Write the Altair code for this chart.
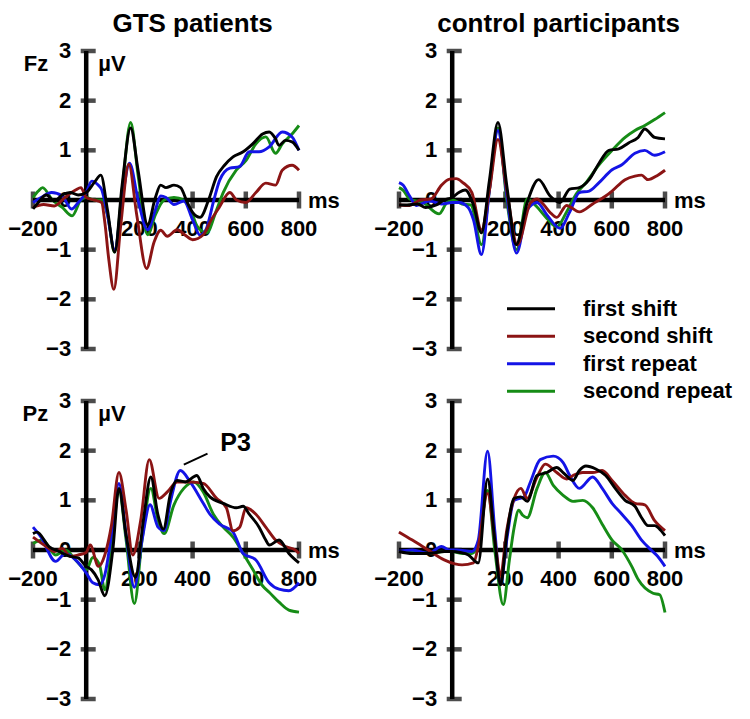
import altair as alt
import pandas as pd

conditions = ["first shift", "second shift", "first repeat", "second repeat"]
colors = ["#000000", "#8b1414", "#1414e6", "#168c16"]

x_tick_values = [-200, 200, 400, 600, 800]
x_tick_labels = ["−200", "200", "400", "600", "800"]
y_tick_values = [3, 2, 1, 0, -1, -2, -3]
y_tick_labels = ["3", "2", "1", "0", "−1", "−2", "−3"]

# ---- GTS patients, Fz ----
gts_fz_first_shift = [(-200,-0.18),(-180,-0.05),(-150,0.1),(-120,-0.02),(-90,0.1),(-60,0.15),(-30,0.1),(0,0.15),(30,0.35),(55,0.5),(80,-0.2),(107,-1.05),(135,0.3),(167,1.45),(195,0.6),(231,-0.5),(260,0.05),(280,0.3),(300,0.25),(330,0.3),(355,0.25),(380,-0.05),(400,-0.25),(428,-0.35),(460,0.0),(490,0.47),(520,0.7),(552,0.87),(590,0.97),(626,1.13),(663,1.33),(688,1.37),(710,1.25),(725,1.1),(749,1.2),(774,1.17),(800,1.0)]
gts_fz_second_shift = [(-200,-0.15),(-160,-0.09),(-120,-0.12),(-80,0.05),(-40,0.2),(-20,0.25),(0,0.05),(30,0.0),(58,-0.05),(70,-0.45),(85,-1.2),(104,-1.8),(130,-0.5),(160,0.72),(190,-0.3),(227,-1.38),(255,-0.85),(280,-0.61),(305,-0.73),(342,-0.6),(370,-0.7),(400,-0.8),(440,-0.7),(470,-0.4),(500,-0.15),(540,0.15),(565,0.0),(600,-0.05),(638,0.15),(675,0.34),(712,0.3),(737,0.6),(774,0.7),(800,0.6)]
gts_fz_first_repeat = [(-200,-0.05),(-170,0.05),(-130,0.15),(-90,0.08),(-55,-0.18),(-30,-0.05),(0,0.15),(21,0.38),(45,0.3),(58,0.21),(80,-0.3),(107,-1.0),(135,0.0),(163,0.74),(195,0.0),(231,-0.6),(260,-0.2),(280,0.08),(300,0.05),(330,-0.09),(367,-0.02),(400,-0.4),(428,-0.71),(450,-0.6),(480,0.0),(502,0.4),(540,0.64),(576,0.67),(613,0.97),(650,0.97),(688,1.07),(737,1.37),(774,1.27),(800,1.0)]
gts_fz_second_repeat = [(-200,0.05),(-180,0.18),(-164,0.25),(-127,0.0),(-90,-0.15),(-53,-0.32),(-20,0.0),(0,0.05),(30,0.0),(60,0.0),(80,-0.3),(107,-1.05),(135,0.2),(167,1.56),(195,0.5),(231,-0.7),(260,-0.3),(293,0.0),(330,0.05),(367,0.0),(400,-0.3),(416,-0.52),(453,-0.66),(490,-0.2),(515,0.15),(564,0.6),(601,0.8),(638,1.13),(675,1.27),(712,0.94),(737,1.13),(774,1.33),(800,1.5)]

# ---- control participants, Fz ----
ctl_fz_first_shift = [(-200,-0.1),(-170,-0.1),(-130,-0.08),(-100,-0.15),(-60,-0.1),(-30,0.0),(0,0.05),(25,0.15),(49,0.2),(80,-0.1),(110,-0.66),(140,0.4),(172,1.56),(205,0.3),(240,-0.9),(282,-0.05),(325,0.41),(368,0.08),(405,-0.05),(442,0.22),(478,0.25),(515,0.41),(552,0.74),(589,1.0),(626,1.03),(663,1.15),(699,1.26),(724,1.43),(761,1.26),(800,1.23)]
ctl_fz_second_shift = [(-200,-0.1),(-160,-0.11),(-120,0.0),(-80,0.02),(-40,0.3),(-10,0.42),(15,0.43),(40,0.35),(74,0.15),(110,-0.6),(140,0.2),(172,1.22),(205,0.2),(245,-0.9),(295,-0.05),(319,0.02),(345,-0.1),(368,-0.25),(393,-0.35),(430,-0.11),(478,-0.24),(528,-0.08),(577,0.08),(601,0.18),(650,0.41),(687,0.48),(712,0.5),(736,0.41),(773,0.5),(800,0.6)]
ctl_fz_first_repeat = [(-200,0.35),(-185,0.3),(-160,0.08),(-135,-0.11),(-86,-0.02),(-40,-0.08),(0,-0.05),(25,-0.05),(60,-0.15),(80,-0.4),(110,-1.1),(140,0.2),(172,1.4),(205,0.1),(242,-1.07),(282,-0.2),(319,-0.05),(356,-0.3),(405,-0.57),(442,-0.24),(478,0.15),(515,0.18),(552,0.35),(601,0.61),(638,0.71),(687,0.94),(724,1.0),(761,0.9),(800,0.97)]
ctl_fz_second_repeat = [(-200,0.25),(-185,0.2),(-160,0.02),(-110,-0.05),(-49,-0.28),(-20,-0.05),(0,0.0),(37,-0.08),(70,-0.1),(110,-0.9),(140,0.2),(172,1.45),(205,0.0),(242,-1.0),(282,0.02),(319,-0.14),(356,-0.37),(393,-0.54),(430,-0.24),(466,0.12),(503,0.35),(552,0.71),(601,1.0),(650,1.26),(687,1.4),(724,1.5),(761,1.62),(800,1.76)]

# ---- GTS patients, Pz ----
gts_pz_first_shift = [(-200,0.33),(-185,0.36),(-140,0.07),(-102,-0.03),(-60,-0.13),(-30,-0.16),(0,-0.33),(20,-0.4),(45,-0.6),(70,-0.92),(100,0.0),(123,1.24),(150,0.3),(185,-0.55),(215,0.6),(243,1.47),(270,0.7),(290,0.42),(317,1.14),(342,1.4),(373,1.37),(416,1.5),(440,1.24),(465,1.07),(515,0.94),(564,0.85),(590,0.88),(613,0.72),(650,0.46),(675,0.2),(688,0.1),(725,0.2),(762,-0.07),(800,-0.26)]
gts_pz_second_shift = [(-200,0.26),(-150,0.07),(-120,-0.03),(-90,0.03),(-60,-0.13),(-30,-0.1),(0,-0.05),(15,0.1),(46,-0.33),(70,-0.1),(95,0.5),(123,1.56),(150,0.8),(175,-0.1),(205,0.6),(237,1.82),(274,1.04),(305,1.17),(342,1.37),(391,1.37),(440,1.34),(490,1.04),(527,0.85),(552,0.39),(577,0.46),(601,0.85),(638,0.72),(675,0.46),(712,0.2),(749,0.07),(786,0.0),(800,-0.07)]
gts_pz_first_repeat = [(-200,0.46),(-170,0.26),(-115,-0.23),(-78,-0.07),(-40,-0.2),(0,-0.46),(25,-0.66),(50,-0.7),(70,-0.5),(95,0.3),(123,1.34),(150,0.3),(181,-0.75),(210,0.2),(240,0.91),(270,0.46),(293,0.39),(317,0.98),(354,1.6),(391,1.37),(440,0.94),(465,0.72),(502,0.52),(552,0.36),(590,-0.07),(638,-0.2),(688,-0.66),(725,-0.79),(762,-0.82),(800,-0.66)]
gts_pz_second_repeat = [(-200,0.13),(-164,0.2),(-115,-0.1),(-78,0.0),(-40,-0.2),(0,-0.4),(25,-0.15),(50,-0.3),(70,-0.8),(95,0.0),(123,1.2),(150,0.2),(181,-1.08),(210,0.2),(243,1.24),(270,0.6),(293,0.33),(330,0.91),(367,1.24),(404,1.37),(440,1.17),(478,0.72),(515,0.46),(552,0.26),(590,-0.07),(626,-0.39),(663,-0.72),(688,-0.85),(725,-1.05),(762,-1.21),(800,-1.25)]

# ---- control participants, Pz ----
ctl_pz_first_shift = [(-200,-0.03),(-150,-0.07),(-90,-0.07),(-30,-0.03),(0,-0.03),(30,-0.05),(61,-0.1),(98,-0.26),(133,1.43),(160,0.2),(182,-0.7),(205,0.3),(233,1.04),(258,1.07),(282,0.98),(319,1.5),(356,1.56),(393,1.66),(417,1.56),(454,1.4),(478,1.6),(503,1.69),(540,1.63),(577,1.5),(613,1.24),(650,1.0),(687,0.88),(712,0.65),(736,0.49),(761,0.49),(785,0.39),(800,0.29)]
ctl_pz_second_shift = [(-200,0.36),(-150,0.2),(-90,0.0),(-30,-0.2),(10,-0.28),(37,-0.3),(80,-0.26),(98,0.07),(133,1.14),(160,0.2),(182,-0.5),(205,0.4),(233,1.04),(258,1.24),(282,1.04),(319,1.47),(350,1.73),(393,1.56),(430,1.43),(454,1.5),(491,1.56),(528,1.56),(564,1.6),(601,1.4),(650,1.1),(687,0.94),(724,0.91),(761,0.59),(800,0.39)]
ctl_pz_first_repeat = [(-200,-0.03),(-150,0.0),(-90,-0.07),(-40,0.07),(-10,0.0),(20,0.0),(74,-0.03),(98,0.2),(133,1.99),(160,0.4),(182,-0.7),(205,0.2),(233,1.0),(270,1.07),(294,1.37),(331,1.82),(380,1.89),(417,1.76),(442,1.5),(478,1.24),(528,1.47),(564,1.24),(601,0.94),(638,0.72),(675,0.49),(712,0.2),(748,0.0),(773,-0.13),(800,-0.33)]
ctl_pz_second_repeat = [(-200,-0.03),(-150,-0.03),(-90,-0.07),(-30,-0.03),(0,-0.03),(40,-0.07),(74,-0.07),(98,0.13),(133,1.2),(160,0.0),(192,-1.1),(215,-0.2),(233,0.46),(250,0.8),(265,0.7),(282,0.65),(319,1.24),(350,1.56),(380,1.3),(417,1.1),(454,0.98),(491,1.0),(528,0.85),(564,0.52),(601,0.2),(638,0.0),(675,-0.33),(700,-0.6),(755,-0.87),(780,-0.9),(800,-1.26)]

# ---------------- layout / style ----------------
W, H = 266, 298
FONT = "Liberation Sans"
AX_W = 4.5
xscale = alt.Scale(domain=[-200, 800], nice=False, zero=False)
yscale = alt.Scale(domain=[-3, 3], nice=False, zero=False)
X = alt.X("t:Q", scale=xscale, axis=None)
Y = alt.Y("v:Q", scale=yscale, axis=None)


def lines(series):
    layers = []
    # draw order: green, blue, red, black (black on top)
    for data, color in reversed(list(zip(series, colors))):
        df = pd.DataFrame(data, columns=["t", "v"])
        layers.append(alt.Chart(df).mark_line(color=color, strokeWidth=2.9,
                                              interpolate="monotone").encode(x=X, y=Y))
    return layers


def axes():
    ax_y = alt.Chart(pd.DataFrame({"t": [0], "v": [-3], "v2": [3]})).mark_rule(
        color="black", strokeWidth=AX_W).encode(x=X, y=Y, y2="v2:Q")
    ax_x = alt.Chart(pd.DataFrame({"t": [-200], "t2": [800], "v": [0]})).mark_rule(
        color="black", strokeWidth=AX_W).encode(x=X, x2="t2:Q", y=Y)
    yt = alt.Chart(pd.DataFrame({"t": [0] * len(y_tick_values), "v": y_tick_values})).mark_tick(
        orient="horizontal", size=15, thickness=AX_W, color="black", xOffset=2).encode(x=X, y=Y)
    xt = alt.Chart(pd.DataFrame({"t": x_tick_values, "v": [0] * len(x_tick_values)})).mark_tick(
        orient="vertical", size=17, thickness=AX_W, color="black").encode(x=X, y=Y)
    ylab = alt.Chart(pd.DataFrame({"t": [0] * len(y_tick_values), "v": y_tick_values,
                                   "lab": y_tick_labels})).mark_text(
        align="right", baseline="middle", dx=-15, font=FONT, fontWeight="bold",
        fontSize=22, color="black").encode(x=X, y=Y, text="lab:N")
    xlab = alt.Chart(pd.DataFrame({"t": x_tick_values, "v": [0] * len(x_tick_values),
                                   "lab": x_tick_labels})).mark_text(
        align="center", baseline="alphabetic", dy=36, font=FONT, fontWeight="bold",
        fontSize=22, color="black").encode(x=X, y=Y, text="lab:N")
    ms = alt.Chart(pd.DataFrame({"t": [800], "v": [0], "lab": ["ms"]})).mark_text(
        align="left", baseline="middle", dx=9, dy=1, font=FONT, fontWeight="bold",
        fontSize=22, color="black").encode(x=X, y=Y, text="lab:N")
    return [ax_y, ax_x, yt, xt, ylab, xlab, ms]


def text_at(label, t, v, **kw):
    style = dict(font=FONT, fontWeight="bold", color="black")
    style.update(kw)
    return alt.Chart(pd.DataFrame({"t": [t], "v": [v], "lab": [label]})).mark_text(
        **style).encode(x=X, y=Y, text="lab:N")


def title_layer(label):
    return alt.Chart(pd.DataFrame({"t": [400], "lab": [label]})).mark_text(
        font=FONT, fontWeight="bold", fontSize=26, color="black",
        align="center", baseline="alphabetic").encode(x=X, y=alt.value(-19), text="lab:N")


def electrode_layers(name):
    return [
        text_at(name, 0, 3, align="right", baseline="alphabetic", dx=-38, dy=20, fontSize=22),
        text_at("µV", 0, 3, align="left", baseline="alphabetic", dx=12, dy=20, fontSize=22),
    ]


def legend_layers():
    out = []
    row_px = [262, 290, 318, 346]
    for name, color, py in zip(conditions, colors, row_px):
        py = py * H / 303
        out.append(alt.Chart(pd.DataFrame({"a": [0]})).mark_rule(color=color, strokeWidth=3).encode(
            x=alt.value(108), x2=alt.value(156), y=alt.value(py)))
        out.append(alt.Chart(pd.DataFrame({"lab": [name]})).mark_text(
            font=FONT, fontWeight="bold", fontSize=22, color="black", align="left",
            baseline="middle").encode(x=alt.value(184), y=alt.value(py), text="lab:N"))
    return out


def p3_layers():
    line = alt.Chart(pd.DataFrame({"t": [367], "t2": [456], "v": [1.72], "v2": [1.94]})).mark_rule(
        color="black", strokeWidth=2).encode(x=X, x2="t2:Q", y=Y, y2="v2:Q")
    lab = text_at("P3", 504, 1.99, align="left", baseline="alphabetic", fontSize=25)
    return [line, lab]


p1 = alt.layer(*axes(), *lines([gts_fz_first_shift, gts_fz_second_shift,
                                 gts_fz_first_repeat, gts_fz_second_repeat]),
               title_layer("GTS patients"), *electrode_layers("Fz")).properties(width=W, height=H)
p2 = alt.layer(*axes(), *lines([ctl_fz_first_shift, ctl_fz_second_shift,
                                 ctl_fz_first_repeat, ctl_fz_second_repeat]),
               title_layer("control participants"), *legend_layers()).properties(width=W, height=H)
p3 = alt.layer(*axes(), *lines([gts_pz_first_shift, gts_pz_second_shift,
                                 gts_pz_first_repeat, gts_pz_second_repeat]),
               *electrode_layers("Pz"), *p3_layers()).properties(width=W, height=H)
p4 = alt.layer(*axes(), *lines([ctl_pz_first_shift, ctl_pz_second_shift,
                                 ctl_pz_first_repeat, ctl_pz_second_repeat])).properties(width=W, height=H)

chart = alt.concat(p1, p2, p3, p4, columns=2,
                   spacing={"row": 52, "column": 100}, bounds="flush").properties(
    padding={"left": 0, "top": 3, "right": 0, "bottom": 0},
    background="white").configure_view(stroke=None)

chart.save("out.html", embed_options={"renderer": "svg", "actions": False})
